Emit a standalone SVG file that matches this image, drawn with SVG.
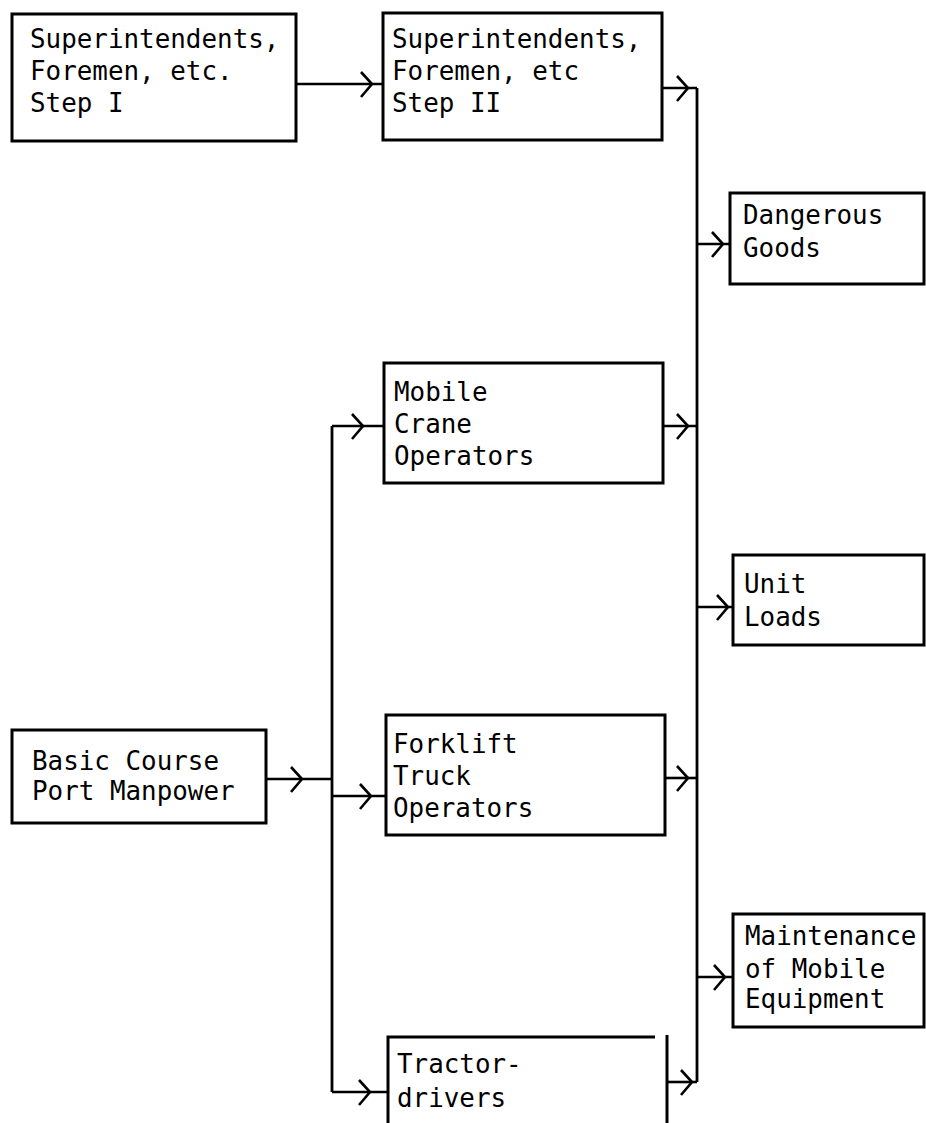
<svg xmlns="http://www.w3.org/2000/svg" width="926" height="1123" viewBox="0 0 926 1123">
<style>
.box{fill:none;stroke:#000;stroke-width:3}
.t{font-family:"DejaVu Sans Mono","Liberation Mono",monospace;font-size:25.9px;fill:#000}
.c{fill:none;stroke:#000;stroke-width:2.6;marker-mid:url(#chev)}
.l{fill:none;stroke:#000;stroke-width:2.8}
</style>
<defs>
<marker id="chev" markerUnits="userSpaceOnUse" viewBox="-14 -14 16 28" refX="0" refY="0" markerWidth="16" markerHeight="28" orient="auto" overflow="visible">
<path d="M-11,-12 L0,0 L-11,13" fill="none" stroke="#000" stroke-width="2.6"/>
</marker>
</defs>
<rect width="926" height="1123" fill="#fff"/>
<g id="connectors">
<path class="c" d="M296,84 L372,84 L383,84"/>
<path class="c" d="M662,88 L688,88 L697,88"/>
<path class="l" d="M697,88 L697,1082"/>
<path class="c" d="M697,244 L723,244 L730,244"/>
<path class="c" d="M663,426 L688,426 L697,426"/>
<path class="c" d="M697,607 L728,607 L733,607"/>
<path class="c" d="M665,778 L688,778 L697,778"/>
<path class="c" d="M697,977 L725,977 L733,977"/>
<path class="c" d="M667,1082 L692,1082 L697,1082"/>
<path class="c" d="M266,779 L302,779 L332,779"/>
<path class="l" d="M332,426 L332,1092"/>
<path class="c" d="M332,426 L363,426 L384,426"/>
<path class="c" d="M332,796 L371,796 L387,796"/>
<path class="c" d="M332,1092 L370,1092 L388,1092"/>
</g>
<g id="step1">
<rect class="box" x="12" y="14" width="284" height="127"/>
<text class="t" x="30" y="48">Superintendents,</text>
<text class="t" x="30" y="80">Foremen, etc.</text>
<text class="t" x="30" y="112">Step I</text>
</g>
<g id="step2">
<rect class="box" x="383" y="13" width="279" height="127"/>
<text class="t" x="392" y="48">Superintendents,</text>
<text class="t" x="392" y="80">Foremen, etc</text>
<text class="t" x="392" y="112">Step II</text>
</g>
<g id="dangerous">
<rect class="box" x="730" y="193" width="194" height="91"/>
<text class="t" x="743" y="224">Dangerous</text>
<text class="t" x="743" y="257">Goods</text>
</g>
<g id="mobile">
<rect class="box" x="384" y="363" width="279" height="120"/>
<text class="t" x="394" y="401">Mobile</text>
<text class="t" x="394" y="433">Crane</text>
<text class="t" x="394" y="465">Operators</text>
</g>
<g id="unit">
<rect class="box" x="733" y="555" width="191" height="90"/>
<text class="t" x="744" y="593">Unit</text>
<text class="t" x="744" y="626">Loads</text>
</g>
<g id="basic">
<rect class="box" x="12" y="730" width="254" height="93"/>
<text class="t" x="32" y="770">Basic Course</text>
<text class="t" x="32" y="800">Port Manpower</text>
</g>
<g id="forklift">
<rect class="box" x="386" y="715" width="279" height="120"/>
<text class="t" x="393" y="753">Forklift</text>
<text class="t" x="393" y="785">Truck</text>
<text class="t" x="393" y="817">Operators</text>
</g>
<g id="maintenance">
<rect class="box" x="733" y="914" width="191" height="113"/>
<text class="t" x="745" y="945">Maintenance</text>
<text class="t" x="745" y="978">of Mobile</text>
<text class="t" x="745" y="1008">Equipment</text>
</g>
<g id="tractor">
<path class="box" d="M388,1123 L388,1037 L655,1037 M667,1035 L667,1123"/>
<text class="t" x="397" y="1073">Tractor-</text>
<text class="t" x="397" y="1107">drivers</text>
</g>
</svg>
